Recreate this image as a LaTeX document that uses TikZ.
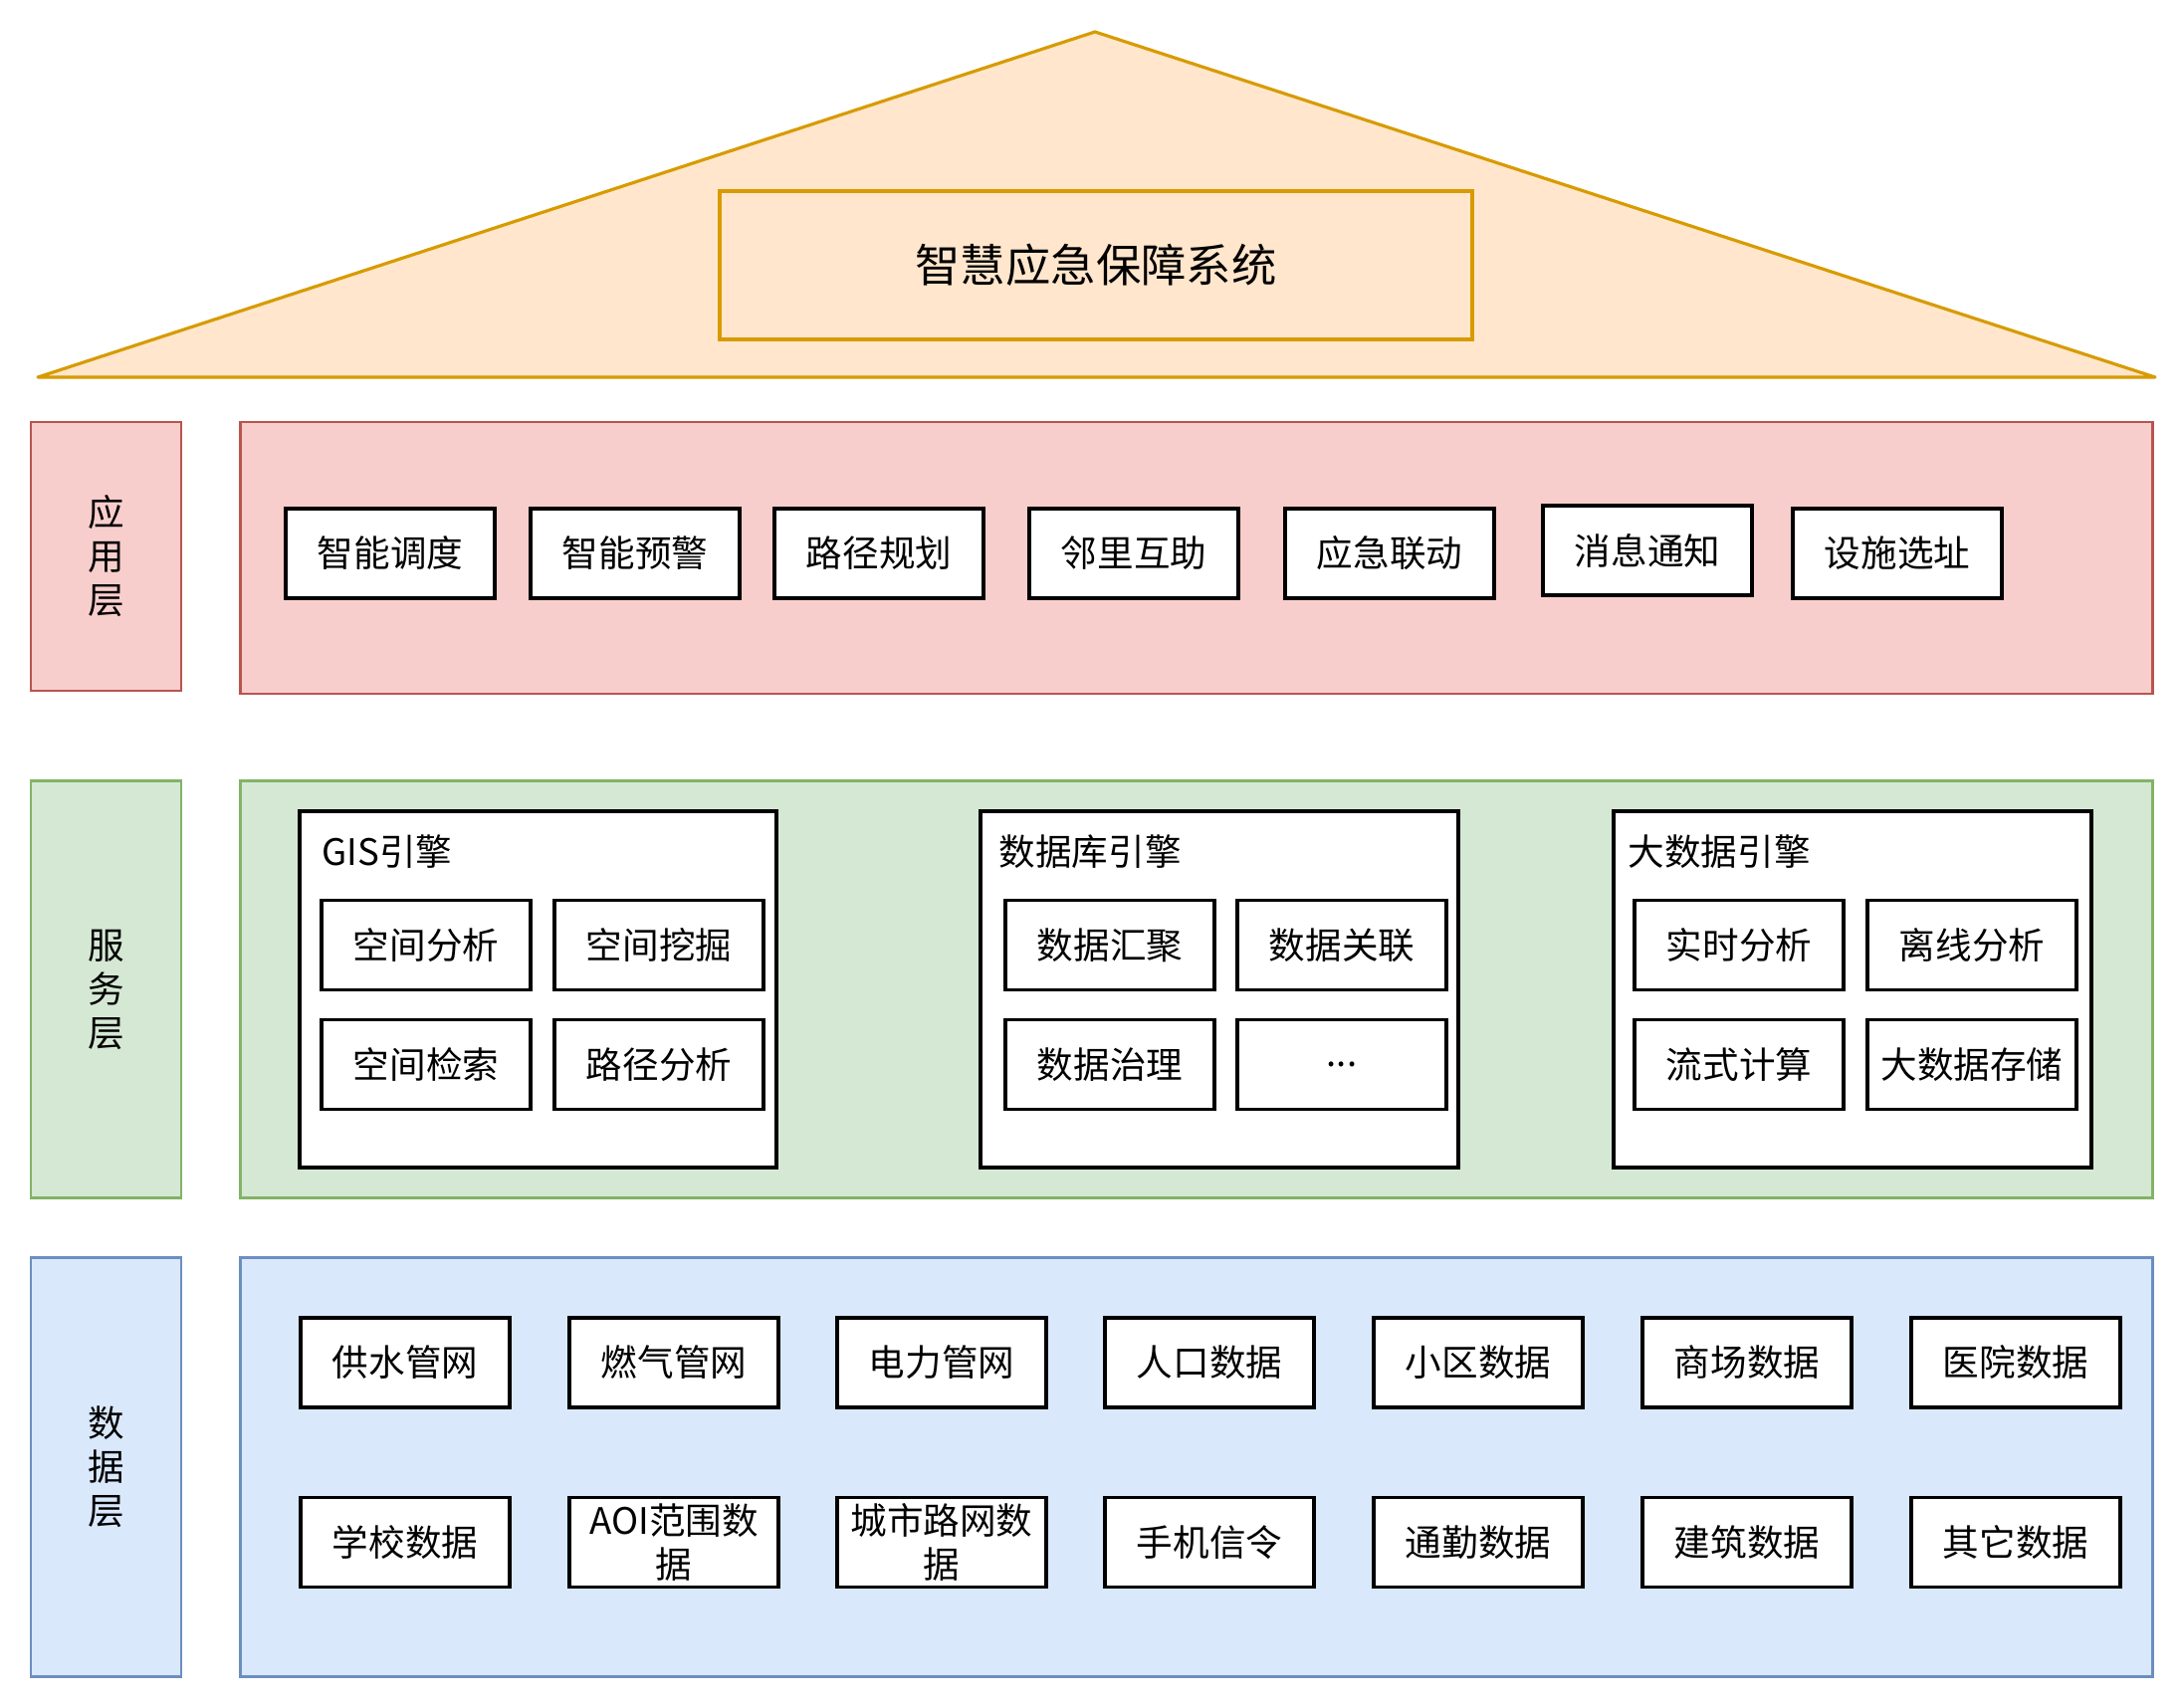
\documentclass[tikz,border=0pt]{standalone}
\usepackage{fontspec}
\setmainfont{Noto Sans CJK SC}
\definecolor{ROOFfill}{HTML}{FFE6CC}
\definecolor{ROOFline}{HTML}{D79B00}
\definecolor{APPfill}{HTML}{F8CECC}
\definecolor{APPline}{HTML}{B85450}
\definecolor{SRVfill}{HTML}{D5E8D4}
\definecolor{SRVline}{HTML}{82B366}
\definecolor{DATfill}{HTML}{DAE8FC}
\definecolor{DATline}{HTML}{6C8EBF}
\usetikzlibrary{positioning}

\begin{document}
\begin{tikzpicture}[x=0.01cm, y=-0.01cm,
   txt/.style={font=\fontsize{10.4}{12.5}\selectfont},
   item/.style={txt, draw=black, line width=1.1pt, fill=white, minimum width=2.1cm,
      minimum height=0.9cm, inner sep=0pt, align=center},
   layerlabel/.style={txt, line width=0.8pt, minimum width=1.51cm, inner sep=0pt, align=center},
   layerbox/.style={line width=0.8pt, minimum width=19.2cm, inner sep=0pt},
   engine/.style={draw=black, line width=1.1pt, fill=white, minimum width=4.79cm,
      minimum height=3.58cm, inner sep=0pt}]
   \useasboundingbox (0,0) rectangle (2193,1716);
   % Roof
   \filldraw[fill=ROOFfill, draw=ROOFline, line width=0.9pt, line join=round]
      (1100,32) -- (2165,379) -- (38,379) -- cycle;
   \node[txt, font=\fontsize{12.9}{15}\selectfont, draw=ROOFline, fill=ROOFfill, line width=1pt,
      minimum width=7.56cm, minimum height=1.49cm] (system) at (1101,266.5) {智慧应急保障系统};

   % Application layer
   \node[layerlabel, draw=APPline, fill=APPfill, minimum height=2.7cm] (applabel) at (106.5,559) {应\\用\\层};
   \node[layerbox, draw=APPline, fill=APPfill, minimum height=2.73cm] (applayer) at (1202,560.5) {};
   \node[item] (dispatch) at (392,556) {智能调度};
   \node[item] (warning) at (638,556) {智能预警};
   \node[item] (route) at (883,556) {路径规划};
   \node[item] (neighbour) at (1139,556) {邻里互助};
   \node[item] (linkage) at (1396,556) {应急联动};
   \node[item] (notice) at (1655,553) {消息通知};
   \node[item] (siting) at (1906,556) {设施选址};

   % Service layer
   \node[layerlabel, draw=SRVline, fill=SRVfill, minimum height=4.18cm] (srvlabel) at (106.5,994) {服\\务\\层};
   \node[layerbox, draw=SRVline, fill=SRVfill, minimum height=4.18cm] (srvlayer) at (1202,994) {};
   % GIS engine
   \node[engine] (gis) at (540.5,994) {};
   \node[txt, anchor=west, inner sep=0pt] (gistitle) at (323,856) {GIS引擎};
   \node[item] (spanalysis) at (428,949.5) {空间分析};
   \node[item] (spmining) at (662,949.5) {空间挖掘};
   \node[item] (spsearch) at (428,1069.5) {空间检索};
   \node[item] (routeanalysis) at (662,1069.5) {路径分析};
   % Database engine
   \node[engine] (db) at (1225,994) {};
   \node[txt, anchor=west, inner sep=0pt] (dbtitle) at (1003,856) {数据库引擎};
   \node[item] (converge) at (1115,949.5) {数据汇聚};
   \node[item] (associate) at (1348,949.5) {数据关联};
   \node[item] (govern) at (1115,1069.5) {数据治理};
   \node[item] (dbmore) at (1348,1069.5) {...};
   % Big data engine
   \node[engine] (bigdata) at (1861,994) {};
   \node[txt, anchor=west, inner sep=0pt] (bdtitle) at (1635,856) {大数据引擎};
   \node[item] (realtime) at (1747,949.5) {实时分析};
   \node[item] (offline) at (1981,949.5) {离线分析};
   \node[item] (stream) at (1747,1069.5) {流式计算};
   \node[item] (storage) at (1981,1069.5) {大数据存储};

   % Data layer
   \node[layerlabel, draw=DATline, fill=DATfill, minimum height=4.2cm] (datlabel) at (106.5,1474) {数\\据\\层};
   \node[layerbox, draw=DATline, fill=DATfill, minimum height=4.2cm] (datlayer) at (1202,1474) {};
   \node[item] (water) at (407,1369) {供水管网};
   \node[item] (gas) at (677,1369) {燃气管网};
   \node[item] (power) at (946,1369) {电力管网};
   \node[item] (population) at (1215,1369) {人口数据};
   \node[item] (community) at (1485,1369) {小区数据};
   \node[item] (mall) at (1755,1369) {商场数据};
   \node[item] (hospital) at (2025,1369) {医院数据};
   \node[item] (school) at (407,1549.5) {学校数据};
   \node[item] (aoi) at (677,1549.5) {AOI范围数\\据};
   \node[item] (roadnet) at (946,1549.5) {城市路网数\\据};
   \node[item] (phone) at (1215,1549.5) {手机信令};
   \node[item] (commute) at (1485,1549.5) {通勤数据};
   \node[item] (building) at (1755,1549.5) {建筑数据};
   \node[item] (other) at (2025,1549.5) {其它数据};
\end{tikzpicture}
\end{document}
